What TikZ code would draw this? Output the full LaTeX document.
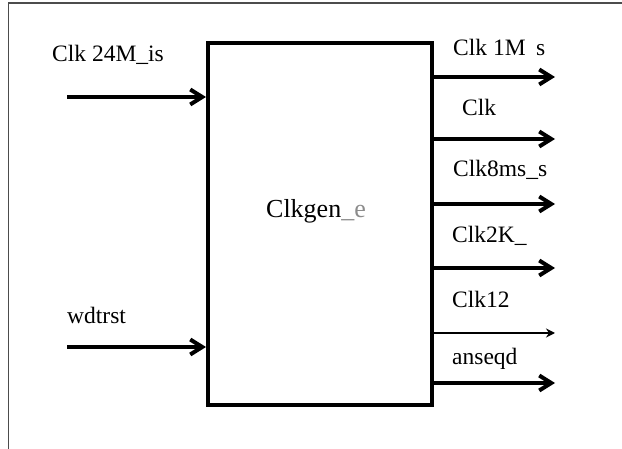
\documentclass[tikz,border=0pt]{standalone}
\usepackage{fontspec}
\setmainfont{Liberation Serif}
\usepackage{tikz}
\usetikzlibrary{arrows.meta}
\usetikzlibrary{positioning}
\newcommand{\portlabel}[3]{\node(#1)[plabel] at (#2) {#3}}

\begin{document}
\begin{tikzpicture}[
        x=1pt, y=-1pt,
        every node/.style={font=\fontsize{23.5}{28}\selectfont},
        block/.style={rectangle,draw=black,line width=4pt,
                      minimum width=224pt,minimum height=362pt,inner sep=0pt},
        plabel/.style={anchor=base west,inner sep=0pt},
        wire/.style={line width=4pt,-{Straight Barb[length=12pt,width=15pt]}},
        thinwire/.style={line width=2pt,-{Stealth[length=9pt,width=9pt]}},
        frame/.style={line width=1.5pt,draw=black!70}
      ]
      \useasboundingbox (0,0) rectangle (622,449);
      \draw[frame] (8.5,449) -- (8.5,3) -- (622,3);

      % the block itself
      \node(blk)[block] at (320,224) {};
      \node(blkname)[anchor=base,inner sep=0pt,font=\fontsize{26}{30}\selectfont]
        at (316,218) {Clkgen\textcolor{black!45}{\_e}};

      % inputs
      \portlabel{lclkin}{52,62}{Clk 24M\_is};
      \portlabel{lwdt}{67,324}{wdtrst};
      \coordinate (clkin) at (67,97);
      \coordinate (wdt) at (67,347);
      \draw[wire] (clkin) -- (clkin -| blk.west);
      \draw[wire] (wdt) -- (wdt -| blk.west);

      % outputs
      \portlabel{lo1}{453,56}{Clk 1M\hspace{0.45em}s};
      \portlabel{lo2}{462,116}{Clk};
      \portlabel{lo3}{453,177}{Clk8ms\_s};
      \portlabel{lo4}{452,243}{Clk2K\_};
      \portlabel{lo5}{452,308}{Clk12};
      \portlabel{lo6}{452,365}{anseqd};
      \coordinate (o1) at (555,77);
      \coordinate (o2) at (555,139);
      \coordinate (o3) at (555,204);
      \coordinate (o4) at (555,268);
      \coordinate (o5) at (555,333);
      \coordinate (o6) at (555,383);
      \draw[wire] (blk.east |- o1) -- (o1);
      \draw[wire] (blk.east |- o2) -- (o2);
      \draw[wire] (blk.east |- o3) -- (o3);
      \draw[wire] (blk.east |- o4) -- (o4);
      \draw[thinwire] (blk.east |- o5) -- (o5);
      \draw[wire] (blk.east |- o6) -- (o6);

    \end{tikzpicture}
\end{document}
